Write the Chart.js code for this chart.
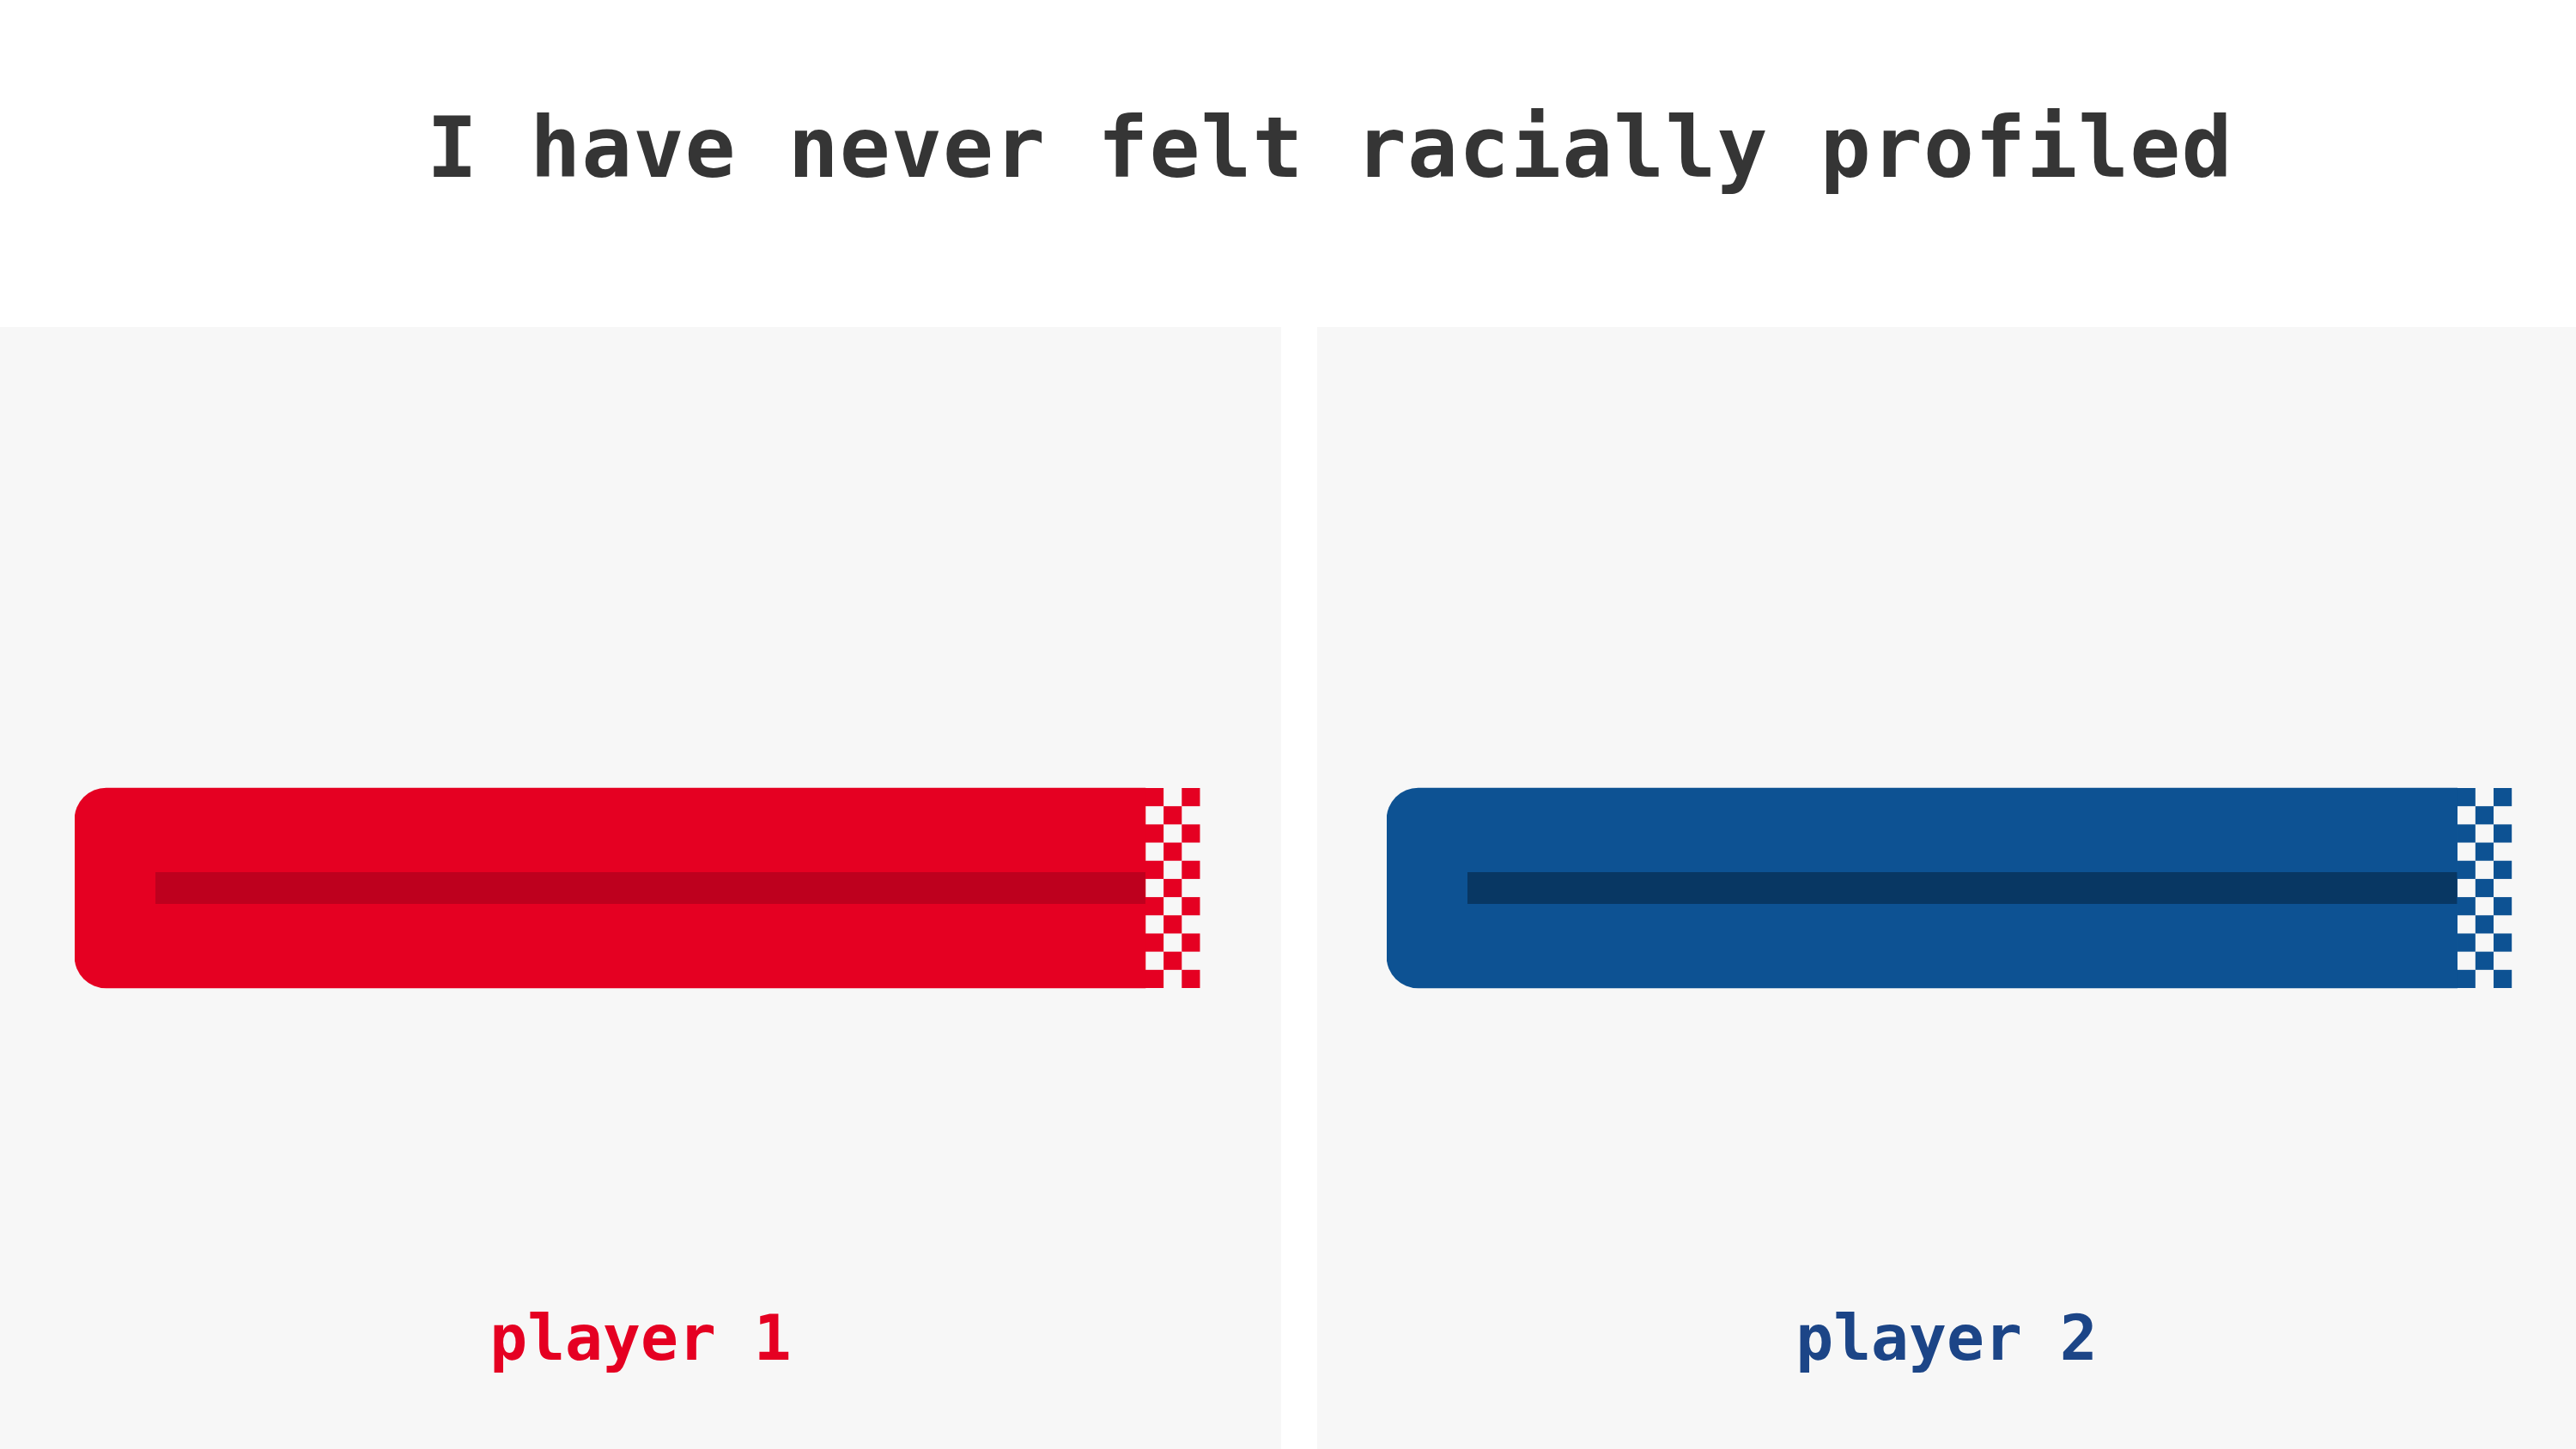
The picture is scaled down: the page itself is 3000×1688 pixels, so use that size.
<!DOCTYPE html>
<html>
<head>
<meta charset="utf-8">
<title>I have never felt racially profiled</title>
<script src="https://cdn.jsdelivr.net/npm/chart.js@4.4.1/dist/chart.umd.min.js"></script>
<style>
  html, body { margin: 0; padding: 0; background: #ffffff; }
  body { width: 3000px; height: 1688px; position: relative; overflow: hidden; }
  #title {
    position: absolute; left: 497px; top: 123px;
    font-family: 'DejaVu Sans Mono', monospace; font-weight: bold;
    font-size: 98px; line-height: 98px; letter-spacing: 1.1px;
    color: #353535; white-space: nowrap;
  }
  .panel { position: absolute; top: 381px; height: 1307px; background: #f7f7f7; }
  #panel1 { left: 0; width: 1492px; }
  #panel2 { left: 1534px; width: 1466px; }
</style>
</head>
<body>
<div id="title">I have never felt racially profiled</div>
<div class="panel" id="panel1"><canvas id="chart1"></canvas></div>
<div class="panel" id="panel2"><canvas id="chart2"></canvas></div>

<script>
// data
var players = ['player 1', 'player 2'];
var values = [100, 100];
var xMax = [105.7, 104.6];

// colours
var barColors = ['#e50022', '#0d5293'];
var stripeColors = ['#be001e', '#083763'];
var labelColors = ['#e50022', '#1c4587'];

var barHeight = 233;
var checkerRows = 11;
var checkerCols = 3;
var stripeInset = 94;
var stripeHeight = 37;
var labelSize = 73;
var labelPadBottom = 79;

// finish-line checker and inner stripe, drawn from the bar element itself
var raceBar = {
  id: 'raceBar',
  afterDatasetsDraw: function(chart, args, opts) {
    var ctx = chart.ctx;
    var meta = chart.getDatasetMeta(0);
    meta.data.forEach(function(bar) {
      var p = bar.getProps(['x', 'y', 'base', 'height'], true);
      var top = p.y - p.height / 2;
      var cell = p.height / checkerRows;
      ctx.save();
      ctx.fillStyle = opts.stripe;
      ctx.fillRect(p.base + stripeInset, p.y - stripeHeight / 2, p.x - p.base - stripeInset, stripeHeight);
      ctx.fillStyle = opts.checker;
      for (var r = 0; r < checkerRows; r++) {
        for (var c = 0; c < checkerCols; c++) {
          if ((r + c) % 2 === 0) {
            ctx.fillRect(p.x + c * cell, top + r * cell, cell, cell);
          }
        }
      }
      ctx.restore();
    });
  }
};

function makeChart(id, i, pad) {
  var ctx = document.getElementById(id).getContext('2d');
  var labelBox = labelSize * 1.2 + labelPadBottom;
  var config = {
    type: 'bar',
    data: {
      labels: [players[i]],
      datasets: [{
        data: [values[i]],
        backgroundColor: barColors[i],
        borderWidth: 0,
        borderSkipped: false,
        borderRadius: { topLeft: 37, bottomLeft: 37, topRight: 0, bottomRight: 0 },
        barThickness: barHeight
      }]
    },
    options: {
      indexAxis: 'y',
      responsive: true,
      maintainAspectRatio: false,
      devicePixelRatio: 1,
      animation: false,
      layout: {
        padding: { top: labelBox, bottom: 0, left: pad, right: pad }
      },
      scales: {
        x: { type: 'linear', min: 0, max: xMax[i], display: false },
        y: { display: false }
      },
      plugins: {
        legend: { display: false },
        tooltip: { enabled: false },
        title: {
          display: true,
          text: players[i],
          position: 'bottom',
          color: labelColors[i],
          font: { family: 'DejaVu Sans Mono', size: labelSize, weight: 'bold', lineHeight: 1.2 },
          padding: { top: 0, bottom: labelPadBottom }
        },
        raceBar: { stripe: stripeColors[i], checker: barColors[i] }
      }
    },
    plugins: [raceBar]
  };
  return new Chart(ctx, config);
}

makeChart('chart1', 0, 87);
makeChart('chart2', 1, 81);
</script>
</body>
</html>
